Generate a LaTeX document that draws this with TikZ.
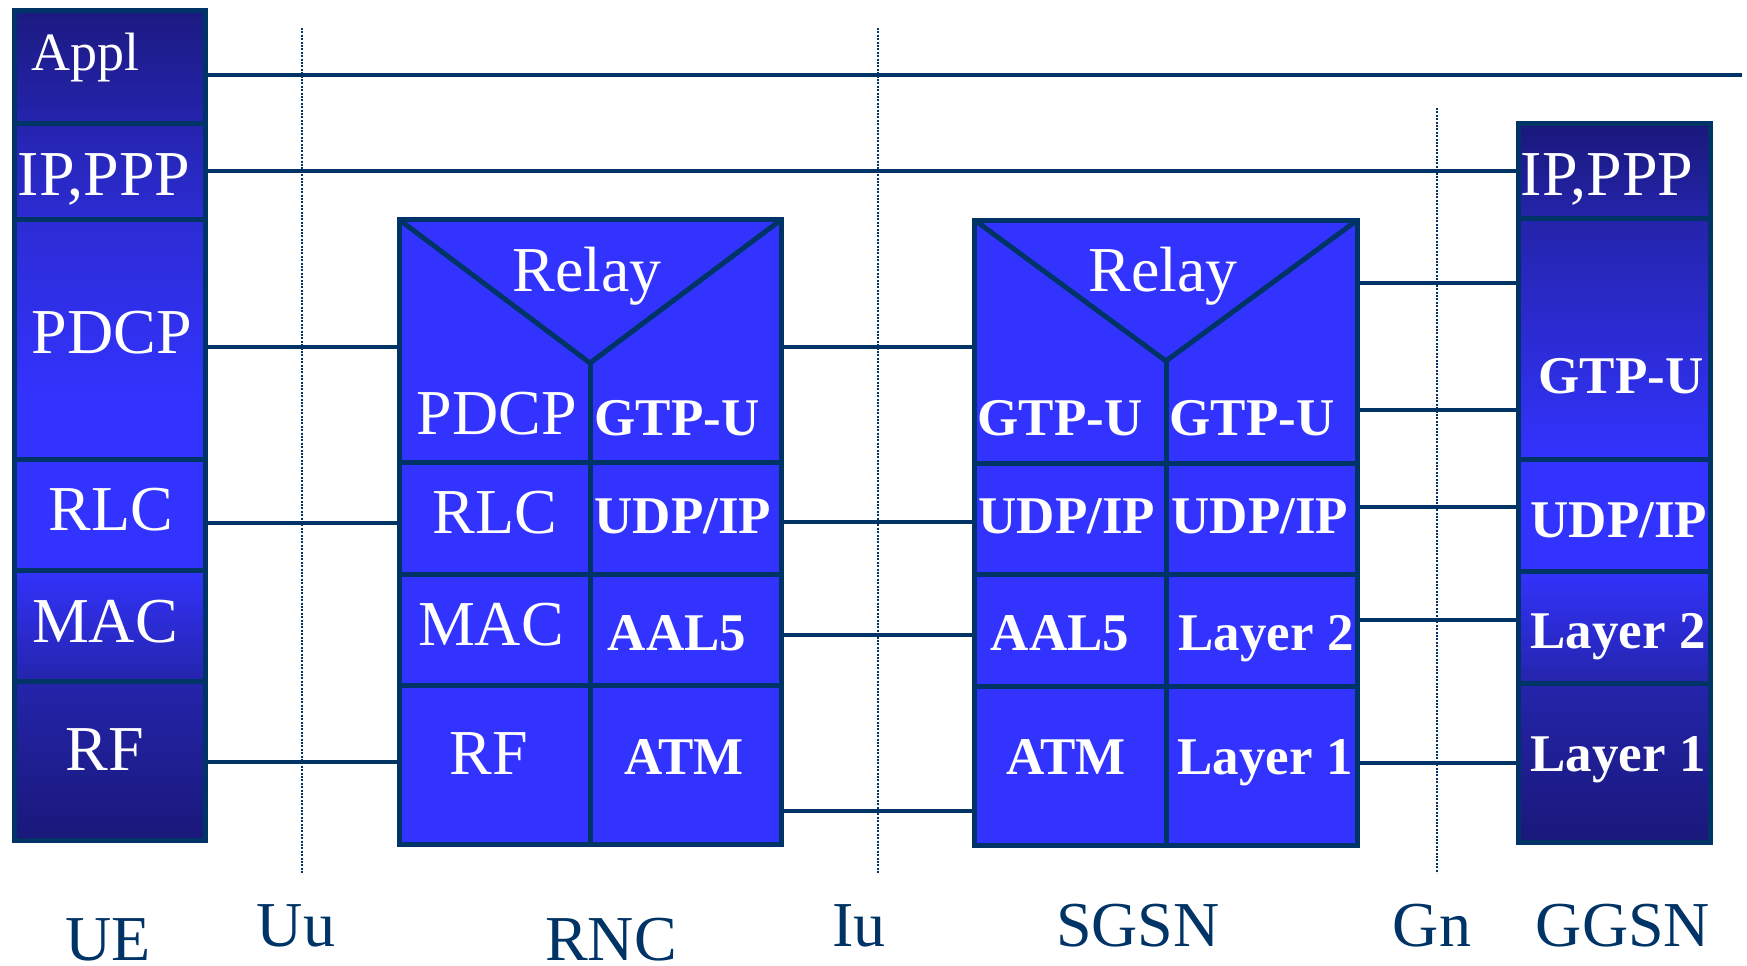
\documentclass[tikz,border=0pt]{standalone}
\usepackage{fontspec}
\setmainfont{Liberation Serif}
\usetikzlibrary{fit}

\definecolor{edge}{RGB}{0,51,102}
\definecolor{cellblue}{RGB}{51,51,255}
\definecolor{navy}{RGB}{26,24,122}
\definecolor{navytop}{RGB}{28,26,128}
\definecolor{deepblue}{RGB}{36,36,170}
\definecolor{softblue}{RGB}{44,44,212}

% terminal stacks: dark at both ends, bright in the middle layers
\pgfdeclareverticalshading{uestack}{100bp}{%
  color(0bp)=(navy); color(25bp)=(navy); color(34.5bp)=(deepblue);
  color(41.5bp)=(cellblue); color(51.5bp)=(cellblue); color(62.5bp)=(softblue);
  color(75bp)=(navytop); color(100bp)=(navytop)}
\pgfdeclareverticalshading{ggstack}{100bp}{%
  color(0bp)=(navy); color(25bp)=(navy); color(36bp)=(deepblue);
  color(44bp)=(cellblue); color(51.5bp)=(cellblue); color(68.5bp)=(deepblue);
  color(75bp)=(navy); color(100bp)=(navy)}

\tikzset{
  layer/.style={draw=edge, line width=2.5pt, inner sep=0pt, outer sep=0pt},
  rule/.style={draw=edge, line width=2.5pt},
  link/.style={draw=edge, line width=2pt},
  divider/.style={draw=edge, line width=1.1pt, dash pattern=on 1pt off 0.7pt},
  lbl/.style={text=white, font=\fontsize{32}{36}\selectfont, anchor=base, inner sep=0pt},
  blbl/.style={text=white, font=\fontsize{26.5}{30}\selectfont\bfseries, anchor=base, inner sep=0pt},
  tag/.style={text=edge, font=\fontsize{32}{36}\selectfont, anchor=base, inner sep=0pt}
}

% a layer cell spanning two corners
\newcommand\layercell[5][]{%
  \path (#3,#4) coordinate (#2-nw) (#5) coordinate (#2-se);
  \node[layer,#1,fit=(#2-nw)(#2-se)] (#2) {};}

\begin{document}
\begin{tikzpicture}[x=0.5pt, y=-0.5pt]
\useasboundingbox (0,0) rectangle (1747,965);
\fill[white] (0,0) rectangle (1747,965);

% interface separators
\coordinate (uu-top) at (302,28);   \coordinate (uu-bot) at (302,873);
\coordinate (iu-top) at (878,28);   \coordinate (iu-bot) at (878,873);
\coordinate (gn-top) at (1437,108); \coordinate (gn-bot) at (1437,873);
\draw[divider] (uu-top) -- (uu-bot);
\draw[divider] (iu-top) -- (iu-bot);
\draw[divider] (gn-top) -- (gn-bot);

% UE stack
\shade[shading=uestack] (14.5,10.5) rectangle (205.5,840.5);
\layercell{ue-appl}{14.5}{10.5}{205.5,123}
\layercell{ue-ip}{14.5}{123}{205.5,219}
\layercell{ue-pdcp}{14.5}{219}{205.5,459.5}
\layercell{ue-rlc}{14.5}{459.5}{205.5,570.5}
\layercell{ue-mac}{14.5}{570.5}{205.5,681.5}
\layercell{ue-rf}{14.5}{681.5}{205.5,840.5}

% GGSN stack
\shade[shading=ggstack] (1518.5,123) rectangle (1710.5,842);
\layercell{gg-ip}{1518.5}{123}{1710.5,218}
\layercell{gg-gtp}{1518.5}{218}{1710.5,459}
\layercell{gg-udp}{1518.5}{459}{1710.5,571.5}
\layercell{gg-l2}{1518.5}{571.5}{1710.5,683.5}
\layercell{gg-l1}{1518.5}{683.5}{1710.5,842}

% RNC relay stack
\layercell[fill=cellblue]{rnc}{399}{219.5}{781.5,844.5}
\coordinate (rnc-apex) at (590,363);
\draw[rule] (rnc.north west) -- (rnc-apex) -- (rnc.north east);
\draw[rule] (rnc-apex) -- (rnc-apex |- rnc.south);
\draw[rule] (rnc.west |- 0,462.5) -- (rnc.east |- 0,462.5);
\draw[rule] (rnc.west |- 0,574.5) -- (rnc.east |- 0,574.5);
\draw[rule] (rnc.west |- 0,685) -- (rnc.east |- 0,685);

% SGSN relay stack
\layercell[fill=cellblue]{sgsn}{974.5}{220}{1357.5,845.5}
\coordinate (sgsn-apex) at (1166,361);
\draw[rule] (sgsn.north west) -- (sgsn-apex) -- (sgsn.north east);
\draw[rule] (sgsn-apex) -- (sgsn-apex |- sgsn.south);
\draw[rule] (sgsn.west |- 0,463) -- (sgsn.east |- 0,463);
\draw[rule] (sgsn.west |- 0,574.5) -- (sgsn.east |- 0,574.5);
\draw[rule] (sgsn.west |- 0,686.5) -- (sgsn.east |- 0,686.5);

% peer links
\coordinate (appl-end) at (1742,75);
\draw[link] (ue-appl.east |- appl-end) -- (appl-end);
\draw[link] (ue-ip.east |- 0,171) -- (gg-ip.west |- 0,171);
\draw[link] (ue-pdcp.east |- 0,347) -- (rnc.west |- 0,347);
\draw[link] (ue-rlc.east |- 0,523) -- (rnc.west |- 0,523);
\draw[link] (ue-rf.east |- 0,762) -- (rnc.west |- 0,762);
\draw[link] (rnc.east |- 0,347) -- (sgsn.west |- 0,347);
\draw[link] (rnc.east |- 0,522) -- (sgsn.west |- 0,522);
\draw[link] (rnc.east |- 0,635) -- (sgsn.west |- 0,635);
\draw[link] (rnc.east |- 0,811) -- (sgsn.west |- 0,811);
\draw[link] (sgsn.east |- 0,283) -- (gg-gtp.west |- 0,283);
\draw[link] (sgsn.east |- 0,410) -- (gg-gtp.west |- 0,410);
\draw[link] (sgsn.east |- 0,507) -- (gg-udp.west |- 0,507);
\draw[link] (sgsn.east |- 0,620) -- (gg-l2.west |- 0,620);
\draw[link] (sgsn.east |- 0,763) -- (gg-l1.west |- 0,763);

% UE labels
\node[lbl, font=\fontsize{27}{30}\selectfont] (t-ue-appl) at (86,70) {Appl};
\node[lbl] (t-ue-ip) at (104,195) {IP,PPP};
\node[lbl] (t-ue-pdcp) at (112,353) {PDCP};
\node[lbl] (t-ue-rlc) at (111,530) {RLC};
\node[lbl] (t-ue-mac) at (105,642) {MAC};
\node[lbl] (t-ue-rf) at (105,770) {RF};

% RNC labels
\node[lbl] (t-rnc-relay) at (587,291) {Relay};
\node[lbl] (t-rnc-pdcp) at (497,434) {PDCP};
\node[blbl] (t-rnc-gtp) at (677,435) {GTP-U};
\node[lbl] (t-rnc-rlc) at (495,533) {RLC};
\node[blbl] (t-rnc-udp) at (683,533) {UDP/IP};
\node[lbl] (t-rnc-mac) at (491,645) {MAC};
\node[blbl] (t-rnc-aal) at (677,650) {AAL5};
\node[lbl] (t-rnc-rf) at (489,774) {RF};
\node[blbl] (t-rnc-atm) at (684,774) {ATM};

% SGSN labels
\node[lbl] (t-sg-relay) at (1163,291) {Relay};
\node[blbl] (t-sg-gtp1) at (1060,435) {GTP-U};
\node[blbl] (t-sg-gtp2) at (1252,435) {GTP-U};
\node[blbl] (t-sg-udp1) at (1067,533) {UDP/IP};
\node[blbl] (t-sg-udp2) at (1260,533) {UDP/IP};
\node[blbl] (t-sg-aal) at (1060,650) {AAL5};
\node[blbl] (t-sg-l2) at (1266,650) {Layer 2};
\node[blbl] (t-sg-atm) at (1066,774) {ATM};
\node[blbl] (t-sg-l1) at (1265,774) {Layer 1};

% GGSN labels
\node[lbl] (t-gg-ip) at (1607,195) {IP,PPP};
\node[blbl] (t-gg-gtp) at (1621,393) {GTP-U};
\node[blbl] (t-gg-udp) at (1619,537) {UDP/IP};
\node[blbl] (t-gg-l2) at (1618,648) {Layer 2};
\node[blbl] (t-gg-l1) at (1618,771) {Layer 1};

% element and interface names
\node[tag] (n-ue) at (108,960) {UE};
\node[tag] (n-uu) at (296,946) {Uu};
\node[tag] (n-rnc) at (611,960) {RNC};
\node[tag] (n-iu) at (859,946) {Iu};
\node[tag] (n-sgsn) at (1138,946) {SGSN};
\node[tag] (n-gn) at (1432,946) {Gn};
\node[tag] (n-ggsn) at (1623,946) {GGSN};
\end{tikzpicture}
\end{document}
